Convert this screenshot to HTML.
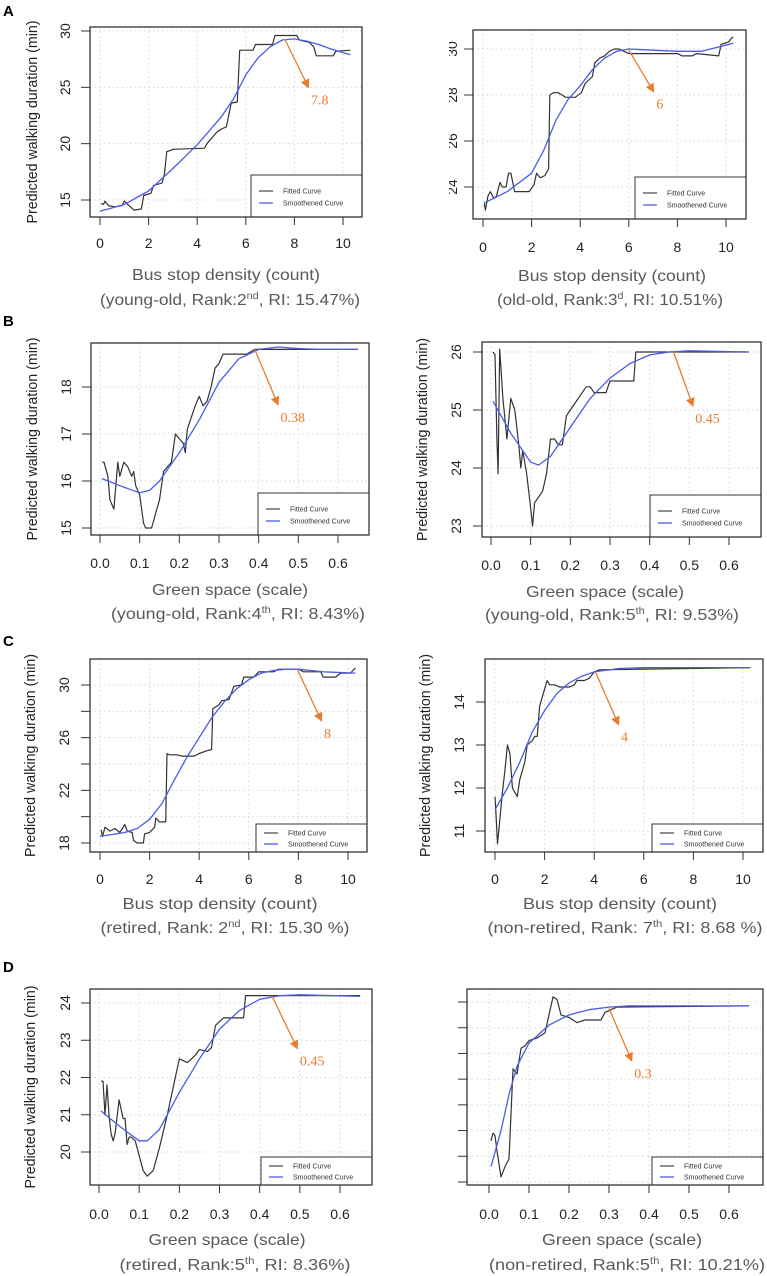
<!DOCTYPE html>
<html><head><meta charset="utf-8"><style>
html,body{margin:0;padding:0;background:#fff;}
svg{display:block;}
.tick{font-family:"Liberation Sans",Arial,sans-serif;font-size:14px;fill:#222;}
.ylab{font-family:"Liberation Sans",Arial,sans-serif;font-size:15px;fill:#222;}
.xlab{font-family:"Liberation Sans",Arial,sans-serif;font-size:16px;fill:#595959;}
.leg{font-family:"Liberation Sans",Arial,sans-serif;font-size:7px;fill:#333;}
.ann{font-family:"Liberation Serif",serif;font-size:14px;fill:#E87D2F;}
.plab{font-family:"Liberation Sans",Arial,sans-serif;font-size:15px;font-weight:bold;fill:#000;}
</style></head><body>
<svg id="fig" width="767" height="1276" viewBox="0 0 767 1276" xmlns="http://www.w3.org/2000/svg">
<defs><clipPath id="clipA2"><rect x="449" y="0" width="30" height="230"/></clipPath></defs>
<text class="plab" x="3" y="16">A</text>
<text class="plab" x="3" y="326">B</text>
<text class="plab" x="3" y="646">C</text>
<text class="plab" x="3" y="972">D</text>
</svg>
<script>
// ---- data ----
const busTicks = [0,2,4,6,8,10];
const busTickLabels = ["0","2","4","6","8","10"];
const greenTicks = [0,0.1,0.2,0.3,0.4,0.5,0.6];
const greenTickLabels = ["0.0","0.1","0.2","0.3","0.4","0.5","0.6"];

const a1Yticks = [15,20,25,30];
const a1FitX = [0.05,0.15,0.2,0.35,0.6,0.9,1.0,1.1,1.4,1.7,1.8,2.1,2.2,2.55,2.65,2.75,2.9,3.0,4.3,4.4,4.6,4.8,5.0,5.2,5.4,5.65,5.75,6.3,6.4,7.1,7.2,8.1,8.2,8.6,8.8,8.9,9.6,9.7,10.3];
const a1FitY = [14.7,14.6,14.9,14.5,14.4,14.5,14.9,14.7,14.1,14.2,15.4,15.6,16.3,16.5,17.3,19.3,19.4,19.5,19.6,20.0,20.5,21.0,21.3,21.5,23.6,23.7,28.3,28.3,28.8,28.8,29.6,29.6,29.2,29.0,28.6,27.8,27.8,28.2,28.3];
const a1SmX = [0,1,2,3,4,5,5.5,6,6.5,7,7.5,8,8.5,9,9.5,10.3];
const a1SmY = [14.0,14.6,15.8,17.8,19.9,22.4,24.0,26.1,27.6,28.6,29.2,29.3,29.1,28.8,28.4,27.9];
const a1Arrow = [7.6,29.3,8.6,24.9];
const a1ArrowLabel = "7.8";

const a2Yticks = [24,26,28,30];
const a2FitX = [0.05,0.1,0.2,0.3,0.45,0.55,0.7,0.8,0.95,1.05,1.15,1.3,1.9,2.1,2.2,2.35,2.55,2.7,2.75,2.9,3.1,3.4,3.8,4.05,4.2,4.5,4.6,4.8,5.0,5.2,5.4,5.6,5.8,6.0,7,8,8.2,8.6,8.8,9.7,9.8,10.1,10.25,10.3];
const a2FitY = [23.3,23.0,23.6,23.8,23.5,23.6,24.2,24.0,24.0,24.6,24.6,23.8,23.8,24.1,24.6,24.4,24.5,24.8,28.0,28.1,28.1,27.9,27.9,28.1,28.5,28.8,29.4,29.6,29.7,29.9,30.0,30.0,29.9,29.8,29.8,29.8,29.7,29.7,29.8,29.7,30.2,30.3,30.5,30.5];
const a2SmX = [0.05,1,2,2.5,3,3.5,4,4.5,5,5.5,6,7,8,9,10.3];
const a2SmY = [23.3,23.8,24.6,25.6,26.9,27.8,28.4,29.1,29.6,29.9,30.0,29.95,29.9,29.9,30.25];
const a2Arrow = [6.0,29.95,7.05,28.1];
const a2ArrowLabel = "6";

const b1Yticks = [15,16,17,18];
const b1FitX = [0.005,0.01,0.02,0.025,0.035,0.045,0.05,0.06,0.07,0.08,0.085,0.09,0.1,0.11,0.115,0.13,0.14,0.15,0.16,0.18,0.19,0.2,0.21,0.215,0.22,0.24,0.25,0.26,0.27,0.28,0.29,0.3,0.31,0.37,0.39,0.65];
const b1FitY = [16.4,16.4,16.1,15.6,15.4,16.4,16.1,16.4,16.3,16.1,16.2,15.9,15.7,15.1,15.0,15.0,15.3,15.6,16.2,16.4,17.0,16.9,16.8,16.6,17.1,17.6,17.8,17.6,17.7,18.0,18.4,18.5,18.7,18.7,18.8,18.8];
const b1SmX = [0.005,0.05,0.1,0.125,0.15,0.2,0.25,0.3,0.35,0.4,0.45,0.5,0.55,0.65];
const b1SmY = [16.05,15.9,15.75,15.8,16.0,16.6,17.3,18.1,18.6,18.8,18.85,18.82,18.8,18.8];
const b1Arrow = [0.39,18.8,0.45,17.6];
const b1ArrowLabel = "0.38";

const b2Yticks = [23,24,25,26];
const b2FitX = [0.005,0.01,0.015,0.018,0.022,0.03,0.04,0.05,0.06,0.07,0.075,0.08,0.09,0.1,0.105,0.11,0.12,0.13,0.14,0.15,0.16,0.17,0.18,0.19,0.2,0.22,0.23,0.24,0.25,0.26,0.27,0.29,0.3,0.36,0.365,0.65];
const b2FitY = [26.0,25.95,24.5,23.9,26.05,25.2,24.5,25.2,25.0,24.4,24.0,24.3,23.9,23.3,23.0,23.4,23.5,23.6,23.9,24.5,24.5,24.4,24.4,24.9,25.0,25.2,25.3,25.4,25.4,25.3,25.3,25.3,25.5,25.5,26.0,26.0];
const b2SmX = [0.005,0.05,0.1,0.12,0.15,0.2,0.25,0.3,0.35,0.4,0.45,0.5,0.65];
const b2SmY = [25.15,24.6,24.1,24.05,24.2,24.7,25.2,25.55,25.8,25.95,26.0,26.02,26.0];
const b2Arrow = [0.46,26.0,0.51,25.05];
const b2ArrowLabel = "0.45";

const c1Yticks = [18,20,22,24,26,28,30];
const c1YtickLabels = ["18","","22","","26","","30"];
const c1FitX = [0.05,0.1,0.2,0.4,0.6,0.8,1.0,1.1,1.3,1.35,1.5,1.75,1.8,2.0,2.2,2.25,2.4,2.65,2.7,2.8,3.1,3.3,3.8,4.0,4.3,4.5,4.55,4.8,4.9,5.2,5.4,5.7,5.8,6.2,6.4,7.0,7.2,8.0,8.2,8.9,9.0,9.5,9.7,10.1,10.3];
const c1FitY = [19.0,18.5,19.2,18.9,19.1,18.8,19.4,18.9,18.8,18.2,18.0,18.0,18.7,18.8,19.2,19.9,19.6,19.6,24.8,24.7,24.7,24.6,24.6,24.8,25.0,25.1,28.2,28.5,28.8,28.9,29.9,30.0,30.6,30.6,31.0,31.0,31.2,31.2,31.0,31.0,30.6,30.6,30.9,30.9,31.3];
const c1SmX = [0,1,1.5,2,2.5,3,3.5,4,4.5,5,5.5,6,6.5,7,7.5,8,8.5,9,10.3];
const c1SmY = [18.5,18.8,19.1,19.8,21.0,22.8,24.5,26.0,27.5,28.7,29.7,30.4,30.9,31.1,31.2,31.2,31.1,31.0,30.9];
const c1Arrow = [7.95,31.2,8.95,27.2];
const c1ArrowLabel = "8";

const c2Yticks = [11,12,13,14];
const c2FitX = [0.0,0.05,0.1,0.2,0.3,0.4,0.5,0.6,0.7,0.8,0.9,1.0,1.2,1.3,1.5,1.6,1.7,1.8,1.9,2.0,2.1,2.2,2.4,2.6,3.0,3.2,3.3,3.6,3.8,4.0,4.2,10.3];
const c2FitY = [11.8,11.3,10.7,11.3,11.9,12.4,13.0,12.8,12.0,11.9,11.8,12.2,12.6,13.0,13.1,13.2,13.2,13.9,14.1,14.3,14.5,14.4,14.4,14.35,14.35,14.4,14.5,14.5,14.55,14.7,14.75,14.8];
const c2SmX = [0,0.5,1,1.5,2,2.5,3,3.5,4,5,6,10.3];
const c2SmY = [11.5,12.0,12.6,13.3,13.8,14.2,14.45,14.6,14.7,14.78,14.8,14.8];
const c2Arrow = [4.05,14.7,5.0,13.45];
const c2ArrowLabel = "4";

const d1Yticks = [20,21,22,23,24];
const d1FitX = [0.005,0.01,0.015,0.02,0.025,0.03,0.035,0.04,0.05,0.06,0.065,0.07,0.075,0.08,0.09,0.1,0.11,0.12,0.135,0.15,0.17,0.19,0.2,0.21,0.22,0.23,0.24,0.25,0.27,0.28,0.29,0.3,0.31,0.36,0.365,0.65];
const d1FitY = [21.9,21.9,21.0,21.8,21.0,20.5,20.3,20.5,21.4,20.9,20.9,20.2,20.4,20.4,20.3,19.9,19.5,19.35,19.5,20.1,21.0,22.0,22.5,22.45,22.4,22.5,22.6,22.75,22.7,22.8,23.4,23.5,23.6,23.6,24.2,24.2];
const d1SmX = [0.005,0.05,0.1,0.12,0.15,0.2,0.25,0.3,0.35,0.4,0.45,0.5,0.65];
const d1SmY = [21.1,20.7,20.3,20.3,20.6,21.6,22.5,23.3,23.8,24.1,24.2,24.22,24.18];
const d1Arrow = [0.43,24.2,0.495,22.75];
const d1ArrowLabel = "0.45";

const d2Yticks = [0,1,2,3,4,5,6,7];
const d2FitX = [0.005,0.01,0.015,0.02,0.03,0.04,0.05,0.06,0.07,0.08,0.09,0.1,0.12,0.14,0.15,0.16,0.17,0.18,0.2,0.22,0.24,0.26,0.28,0.29,0.32,0.65];
const d2FitY = [1.6,1.9,1.8,1.2,0.2,0.6,0.9,4.4,4.2,5.2,5.3,5.5,5.6,5.8,6.5,7.2,7.1,6.5,6.4,6.2,6.3,6.3,6.3,6.6,6.8,6.85];
const d2SmX = [0.005,0.03,0.05,0.07,0.1,0.15,0.2,0.25,0.3,0.35,0.65];
const d2SmY = [0.6,2.0,3.4,4.5,5.4,6.1,6.5,6.7,6.8,6.85,6.85];
const d2Arrow = [0.3,6.75,0.358,4.67];
const d2ArrowLabel = "0.3";

// ---- layout (geometry only) ----
const panels = [
 {id:'a1',box:[90,27,362,217],xm:[0,100,10,343],ym:[15,200,30,31],xt:busTicks,xl:busTickLabels,yt:a1Yticks,fx:a1FitX,fy:a1FitY,sx:a1SmX,sy:a1SmY,ar:a1Arrow,al:a1ArrowLabel,tickY:248,ytx:65,ylab:32,legH:42,
  xlab:['Bus stop density (count)',226,280,188],sub:['(young-old, Rank:2','nd',', RI: 15.47%)',230,305,260]},
 {id:'a2',box:[473,30,746,219],xm:[0,483,10,726],ym:[24,187,30,49],xt:busTicks,xl:busTickLabels,yt:a2Yticks,fx:a2FitX,fy:a2FitY,sx:a2SmX,sy:a2SmY,ar:a2Arrow,al:a2ArrowLabel,tickY:252,ytx:452,ylab:null,clipY:true,legH:42,
  xlab:['Bus stop density (count)',612,281,188],sub:['(old-old, Rank:3','d',', RI: 10.51%)',610,305,226]},
 {id:'b1',box:[91,343,369,535],xm:[0,100,0.6,338],ym:[15,528,18,387],xt:greenTicks,xl:greenTickLabels,yt:b1Yticks,fx:b1FitX,fy:b1FitY,sx:b1SmX,sy:b1SmY,ar:b1Arrow,al:b1ArrowLabel,tickY:568,ytx:66,ylab:32,legH:42,
  xlab:['Green space (scale)',230,595,156],sub:['(young-old, Rank:4','th',', RI: 8.43%)',238,619,254]},
 {id:'b2',box:[482,342,761,537],xm:[0,491,0.6,729],ym:[23,526,26,352],xt:greenTicks,xl:greenTickLabels,yt:b2Yticks,fx:b2FitX,fy:b2FitY,sx:b2SmX,sy:b2SmY,ar:b2Arrow,al:b2ArrowLabel,tickY:570,ytx:456,ylab:422,legH:42,
  xlab:['Green space (scale)',605,597,158],sub:['(young-old, Rank:5','th',', RI: 9.53%)',612,620,254]},
 {id:'c1',box:[90,659,367,852],xm:[0,100,10,348],ym:[18,843,30,685],xt:busTicks,xl:busTickLabels,yt:c1Yticks,ytl:c1YtickLabels,fx:c1FitX,fy:c1FitY,sx:c1SmX,sy:c1SmY,ar:c1Arrow,al:c1ArrowLabel,tickY:884,ytx:64,ylab:30,legH:28,
  xlab:['Bus stop density (count)',220,909,195],sub:['(retired, Rank: 2','nd',', RI: 15.30 %)',225,933,249]},
 {id:'c2',box:[485,659,763,852],xm:[0,495,10,743],ym:[11,831,14,702],xt:busTicks,xl:busTickLabels,yt:c2Yticks,fx:c2FitX,fy:c2FitY,sx:c2SmX,sy:c2SmY,ar:c2Arrow,al:c2ArrowLabel,tickY:884,ytx:459,ylab:425,legH:28,
  xlab:['Bus stop density (count)',620,909,194],sub:['(non-retired, Rank: 7','th',', RI: 8.68 %)',625,933,275]},
 {id:'d1',box:[90,989,372,1185],xm:[0,99,0.6,340],ym:[20,1152,24,1003],xt:greenTicks,xl:greenTickLabels,yt:d1Yticks,fx:d1FitX,fy:d1FitY,sx:d1SmX,sy:d1SmY,ar:d1Arrow,al:d1ArrowLabel,tickY:1219,ytx:65,ylab:30,legH:28,
  xlab:['Green space (scale)',227,1245,157],sub:['(retired, Rank:5','th',', RI: 8.36%)',235,1270,231]},
 {id:'d2',box:[467,989,763,1185],xm:[0,489,0.6,729],ym:[0,1182,7,1002],xt:greenTicks,xl:greenTickLabels,yt:d2Yticks,ytl:d2Yticks.map(()=>''),fx:d2FitX,fy:d2FitY,sx:d2SmX,sy:d2SmY,ar:d2Arrow,al:d2ArrowLabel,tickY:1219,ytx:456,ylab:null,legH:28,
  xlab:['Green space (scale)',622,1245,160],sub:['(non-retired, Rank:5','th',', RI: 10.21%)',627,1270,276]}
];
const NS='http://www.w3.org/2000/svg';
const svg=document.getElementById('fig');
function mk(tag,attrs,parent,txt){const e=document.createElementNS(NS,tag);for(const k in attrs)e.setAttribute(k,attrs[k]);if(txt!==undefined)e.textContent=txt;(parent||svg).appendChild(e);return e;}
function lin(m){return v=>m[1]+(v-m[0])*(m[3]-m[1])/(m[2]-m[0]);}
panels.forEach(p=>{
  const g=mk('g',{});
  
  
  const X=lin(p.xm),Y=lin(p.ym);
  const [l,t,r,b]=p.box;
  p.xt.forEach(v=>{const gl=mk('line',{x1:X(v),x2:X(v),y1:t,y2:b,stroke:'#d6d6d6','stroke-width':1,'stroke-dasharray':'1.5 3'},g);
    
    });
  p.yt.forEach(v=>{const gl=mk('line',{x1:l,x2:r,y1:Y(v),y2:Y(v),stroke:'#d6d6d6','stroke-width':1,'stroke-dasharray':'1.5 3'},g);
    
    });
  const fit=mk('polyline',{points:p.fx.map((x,i)=>X(x).toFixed(1)+','+Y(p.fy[i]).toFixed(1)).join(' '),fill:'none',stroke:'#333','stroke-width':1.2,'stroke-linejoin':'round'},g);
  
  
  const sm=mk('polyline',{points:p.sx.map((x,i)=>X(x).toFixed(1)+','+Y(p.sy[i]).toFixed(1)).join(' '),fill:'none',stroke:'#4b5ce6','stroke-width':1.3,'stroke-linejoin':'round'},g);
  
  
  const [ax1,ay1,ax2,ay2]=p.ar;
  const x1=X(ax1),y1=Y(ay1),x2=X(ax2),y2=Y(ay2);
  const dx=x2-x1,dy=y2-y1,L=Math.hypot(dx,dy),ux=dx/L,uy=dy/L;
  const hl=9,hw=4.5;
  const bx=x2-ux*hl,by=y2-uy*hl;
  const al=mk('line',{x1:x1,y1:y1,x2:bx,y2:by,stroke:'#E87D2F','stroke-width':1.3},g);
  
  
  const ah=mk('polygon',{points:`${x2},${y2} ${bx-uy*hw},${by+ux*hw} ${bx+uy*hw},${by-ux*hw}`,fill:'#E87D2F'},g);
  
  
  const at=mk('text',{class:'ann',x:x2+2,y:y2+16},g,p.al);
  
  
  const lw=111,lh=p.legH,lx=r-lw,ly=b-lh;
  const lg=mk('g',{},g);
  
  
  mk('rect',{x:lx,y:ly,width:lw,height:lh,fill:'#fff',stroke:'#333','stroke-width':1},lg);
  const r1=lh>30?ly+16:ly+9, r2=lh>30?ly+28:ly+20;
  mk('line',{x1:lx+8,x2:lx+22,y1:r1,y2:r1,stroke:'#333','stroke-width':1.1},lg);
  mk('line',{x1:lx+8,x2:lx+22,y1:r2,y2:r2,stroke:'#4b5ce6','stroke-width':1.3},lg);
  const le1=mk('text',{class:'leg',x:lx+32,y:r1+2.5},lg,'Fitted Curve');
  
  
  const le2=mk('text',{class:'leg',x:lx+32,y:r2+2.5},lg,'Smoothened Curve');
  
  
  const bxr=mk('rect',{x:l,y:t,width:r-l,height:b-t,fill:'none',stroke:'#333','stroke-width':1.3},g);
  
  
  p.xt.forEach((v,i)=>{mk('line',{x1:X(v),x2:X(v),y1:b,y2:b+8,stroke:'#333','stroke-width':1},g);
    const tx=mk('text',{class:'tick',x:X(v),y:p.tickY,'text-anchor':'middle'},g,p.xl[i]);
    
    });
  const yg=mk('g',p.clipY?{'clip-path':'url(#clipA2)'}:{},g);
  p.yt.forEach((v,i)=>{mk('line',{x1:l-9,x2:l,y1:Y(v),y2:Y(v),stroke:'#333','stroke-width':1},g);
    const lab=p.ytl?p.ytl[i]:String(v);
    if(lab!==''){const ty=mk('text',{class:'tick',x:0,y:0,'text-anchor':'middle',transform:`translate(${p.ytx+5},${Y(v)}) rotate(-90)`},yg,lab);
      
      }});
  if(p.ylab!==null){const yl=mk('text',{class:'ylab','text-anchor':'middle',textLength:203,lengthAdjust:'spacingAndGlyphs',transform:`translate(${p.ylab+5},${(t+b)/2}) rotate(-90)`},g,'Predicted walking duration (min)');
    
    }
  const xl=mk('text',{class:'xlab',x:p.xlab[1],y:p.xlab[2],'text-anchor':'middle',textLength:p.xlab[3],lengthAdjust:'spacingAndGlyphs'},g,p.xlab[0]);
  
  
  const s=p.sub;
  const st=mk('text',{class:'xlab',x:s[3],y:s[4],'text-anchor':'middle',textLength:s[5],lengthAdjust:'spacingAndGlyphs'},g);
  
  
  mk('tspan',{},st,s[0]);
  mk('tspan',{dy:-6,'font-size':'10px'},st,s[1]);
  mk('tspan',{dy:6},st,s[2]);
});
</script>
</body></html>
